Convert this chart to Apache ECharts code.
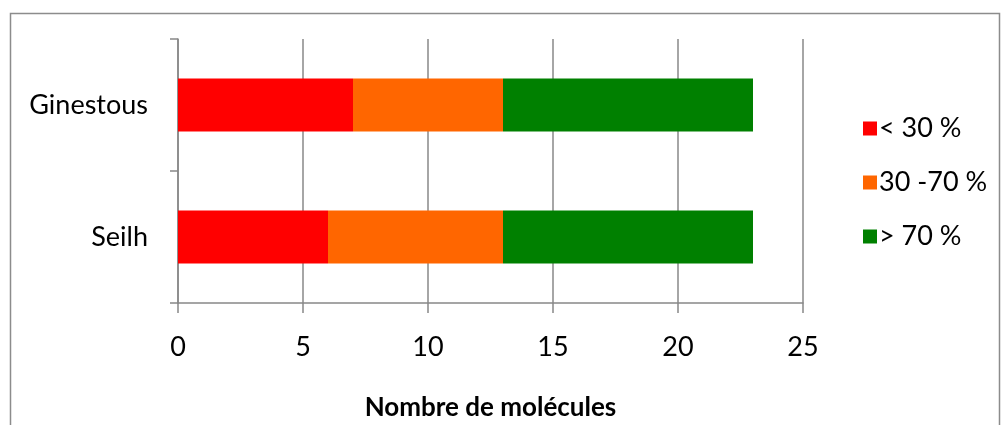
<!DOCTYPE html>
<html><head><meta charset="utf-8">
<script src="https://cdn.jsdelivr.net/npm/echarts@6/dist/echarts.min.js"></script>
<style>html,body{margin:0;padding:0;background:#fff}#c{width:1006px;height:425px}</style>
</head><body><div id="c"></div>
<script>
const categories = ['Ginestous', 'Seilh'];
const seriesNames = ['< 30 %', '30 -70 %', '> 70 %'];
const low = [7, 6];
const mid = [6, 7];
const high = [10, 10];
const colors = ['#FF0000', '#FF6600', '#008000'];
const font = 'Lato, "Liberation Sans", sans-serif';
const chart = echarts.init(document.getElementById('c'));
const vals = [low, mid, high];
chart.setOption({
  animation: false,
  graphic: [{type: 'rect', shape: {x: 10.5, y: 13.5, width: 989, height: 420}, style: {fill: 'none', stroke: '#8c8c8c', lineWidth: 1.5}, z: -1}],
  grid: {left: 178, right: 203, top: 39, bottom: 122, containLabel: false, outerBoundsMode: 'none'},
  legend: {
    orient: 'vertical', left: 858, top: 110, itemGap: 27, itemWidth: 14, itemHeight: 14,
    icon: 'rect',
    textStyle: {fontFamily: font, fontSize: 27, color: '#000', padding: [0, 0, 0, -3]},
    data: seriesNames
  },
  xAxis: {
    type: 'value', min: 0, max: 25, interval: 5,
    name: 'Nombre de molécules', nameLocation: 'middle', nameGap: 92,
    nameTextStyle: {fontFamily: font, fontSize: 26, fontWeight: 'bold', color: '#000'},
    axisLine: {show: true, lineStyle: {color: '#888', width: 1.5}},
    axisTick: {show: true, length: 10, lineStyle: {color: '#888', width: 1.5}},
    axisLabel: {fontFamily: font, fontSize: 27, color: '#000', margin: 31},
    splitLine: {show: true, lineStyle: {color: '#888', width: 1.5}}
  },
  yAxis: {
    type: 'category', data: categories, inverse: true,
    axisLine: {show: true, lineStyle: {color: '#888', width: 1.5}},
    axisTick: {show: true, length: 8, lineStyle: {color: '#888', width: 1.5}},
    axisLabel: {fontFamily: font, fontSize: 27, color: '#000', margin: 30},
    splitLine: {show: false}
  },
  series: seriesNames.map((n, i) => ({
    name: n, type: 'bar', stack: 'total', data: vals[i], barWidth: '40%',
    itemStyle: {color: colors[i]}
  }))
});
</script></body></html>
